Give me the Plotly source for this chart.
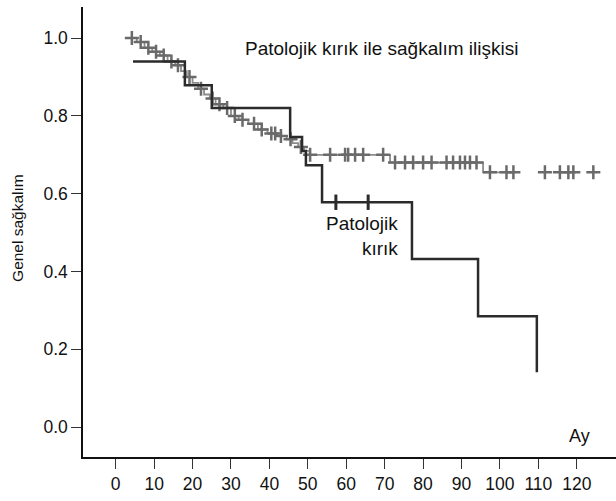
import numpy as np
import plotly.graph_objects as go

# --- Data ---
# Non-pathological fracture group: step times and survival after each step
main_t = [3.5, 5.5, 7.5, 9.5, 11.5, 13.5, 15.5, 17.0, 18.5, 20.0, 21.5, 23.0, 24.5, 26.0,
          28.0, 30.0, 32.0, 34.5, 37.0, 39.5, 42.0, 44.5, 46.0, 47.5, 49.0, 50.5, 71.4, 95.6]
main_s = [1.0, 0.99, 0.975, 0.965, 0.955, 0.94, 0.93, 0.915, 0.90, 0.885, 0.87, 0.855, 0.845, 0.83,
          0.82, 0.80, 0.79, 0.78, 0.765, 0.755, 0.748, 0.74, 0.73, 0.72, 0.71, 0.70, 0.68, 0.655]
main_line_end = 104.0
main_censor = [4.2, 6.5, 8.5, 10.5, 12.5, 14.5, 16.2, 19.2, 22.2, 25.2, 27.0, 29.0, 31.0, 33.0,
               36.0, 38.0, 40.5, 41.5, 43.0, 45.5, 48.2, 50.6, 55.8, 59.7, 60.5, 62.3, 64.4,
               69.6, 72.7, 75.3, 77.4, 80.0, 82.2, 86.1, 87.8, 89.6, 90.9, 92.2, 93.9, 97.4,
               101.7, 103.5, 111.7, 115.6, 117.8, 119.1, 124.3]

# Pathological fracture group
path_t = [4.5, 18.0, 25.0, 45.4, 48.5, 49.5, 53.7, 77.1, 94.3, 109.6]
path_s = [0.94, 0.879, 0.82, 0.746, 0.71, 0.673, 0.578, 0.432, 0.285, 0.141]
path_censor = [57.3, 65.7]

x_ticks = [0, 10, 20, 30, 40, 50, 60, 70, 80, 90, 100, 110, 120]
y_ticks = [0.0, 0.2, 0.4, 0.6, 0.8, 1.0]
y_tick_text = ["0.0", "0.2", "0.4", "0.6", "0.8", "1.0"]

title_text = "Patolojik kırık ile sağkalım ilişkisi"
group_label = "Patolojik<br>kırık"
x_label = "Ay"
y_label = "Genel sağkalım"


def surv_at(times, surv, t):
    idx = np.searchsorted(np.array(times), np.array(t), side="right") - 1
    idx = np.clip(idx, 0, len(surv) - 1)
    return list(np.array(surv)[idx])


fig = go.Figure()

# main curve line (step)
mx = list(main_t) + [main_line_end]
my = list(main_s) + [main_s[-1]]
fig.add_trace(go.Scatter(x=mx, y=my, mode="lines", line=dict(shape="hv", color="#8c8c8c", width=1.8),
                         showlegend=False, hoverinfo="skip"))
fig.add_trace(go.Scatter(x=main_censor, y=surv_at(main_t, main_s, main_censor), mode="markers",
                         marker=dict(symbol="cross-thin", size=10, line=dict(color="#6a6a6a", width=2.5)),
                         showlegend=False, hoverinfo="skip"))

# pathological fracture curve
fig.add_trace(go.Scatter(x=path_t, y=path_s, mode="lines", line=dict(shape="hv", color="#2b2b2b", width=2.5),
                         showlegend=False, hoverinfo="skip"))
fig.add_trace(go.Scatter(x=path_censor, y=surv_at(path_t, path_s, path_censor), mode="markers",
                         marker=dict(symbol="line-ns", size=11, line=dict(color="#2b2b2b", width=3)),
                         showlegend=False, hoverinfo="skip"))

font_family = "Liberation Sans, Arial, Helvetica, sans-serif"

fig.add_annotation(x=69.3, y=0.974, text=title_text, showarrow=False,
                   font=dict(size=19, color="#111", family=font_family), xanchor="center", yanchor="middle")
fig.add_annotation(x=74.0, y=0.49, text=group_label, showarrow=False, align="right",
                   font=dict(size=19, color="#111", family=font_family), xanchor="right", yanchor="middle")
fig.add_annotation(x=120.8, y=-0.023, text=x_label, showarrow=False,
                   font=dict(size=18, color="#111", family=font_family), xanchor="center", yanchor="middle")
fig.add_annotation(xref="paper", yref="paper", x=-0.122, y=0.509, text=y_label, showarrow=False,
                   textangle=-90, font=dict(size=15.5, color="#111", family=font_family),
                   xanchor="center", yanchor="middle")

fig.update_layout(
    width=616, height=501,
    margin=dict(l=83, r=0, t=7, b=44, autoexpand=False),
    plot_bgcolor="white", paper_bgcolor="white",
    font=dict(family=font_family, size=18, color="#111"),
    showlegend=False,
)
fig.update_xaxes(range=[-8.51, 130.2], tickvals=x_ticks, ticks="outside", ticklen=10, tickwidth=1,
                 tickcolor="#333", showline=True, linecolor="#111", linewidth=1.5, showgrid=False,
                 zeroline=False, tickfont=dict(size=17.5, color="#111"), automargin=False)
fig.update_yaxes(range=[-0.0771, 1.080], tickvals=y_ticks, ticktext=y_tick_text, ticks="outside", ticklen=10,
                 tickwidth=1, tickcolor="#333", showline=True, linecolor="#111", linewidth=1.5,
                 showgrid=False, zeroline=False, tickfont=dict(size=17.5, color="#111"), automargin=False)

fig.write_html("out.html", config={"displayModeBar": False},
               post_script="document.body.style.margin='0';")
